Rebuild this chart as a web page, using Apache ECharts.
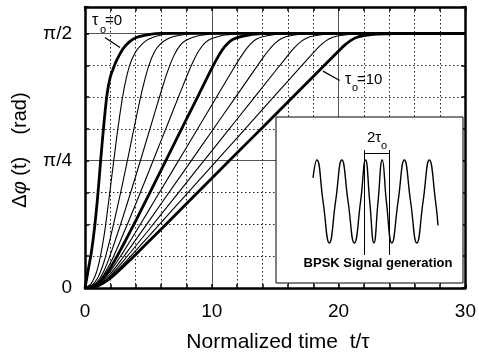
<!DOCTYPE html>
<html>
<head>
<meta charset="utf-8">
<title>BPSK phase transition</title>
<script src="https://cdn.jsdelivr.net/npm/echarts@6.0.0/dist/echarts.min.js"></script>
<style>
  html, body { margin: 0; padding: 0; background: #fff; }
  #chart { width: 479px; height: 355px; }
</style>
</head>
<body>
<div id="chart"></div>
<script>
// Δφ(t), [t/τ, Δφ in units of π/2]
const curveTau0 = [[0,0],[0.25,0.07],[0.5,0.14],[0.75,0.235],[1,0.36],[1.25,0.51],[1.5,0.65],[1.75,0.765],[2,0.83],[2.25,0.865],[2.5,0.895],[3,0.94],[3.5,0.967],[4,0.983],[5,0.995],[6,1],[30,1]];
const curveTau1 = [[0,0],[0.5,0.018],[1,0.078],[1.5,0.205],[2,0.393],[2.5,0.592],[3,0.761],[3.5,0.872],[4,0.928],[4.5,0.958],[5,0.977],[6,0.994],[7,0.999],[8,1],[30,1]];
const curveTau2 = [[0,0],[0.5,0.009],[1,0.039],[1.5,0.103],[2,0.197],[2.5,0.305],[3,0.419],[3.5,0.539],[4,0.66],[4.5,0.775],[5,0.869],[5.5,0.93],[6,0.961],[6.5,0.978],[7,0.988],[8,0.997],[9,1],[30,1]];
const curveTau3 = [[0,0],[0.5,0.006],[1,0.026],[1.5,0.068],[2,0.131],[3,0.28],[4,0.44],[5,0.605],[6,0.771],[6.5,0.849],[7,0.912],[7.5,0.953],[8,0.974],[9,0.992],[10,0.998],[11,1],[30,1]];
const curveTau4 = [[0,0],[1,0.02],[2,0.098],[3,0.21],[4,0.33],[5,0.454],[6,0.579],[7,0.704],[8,0.829],[8.5,0.887],[9,0.934],[9.5,0.965],[10,0.98],[11,0.994],[12,0.998],[13,1],[30,1]];
const curveTau5 = [[0,0],[1,0.016],[2,0.079],[3,0.168],[4,0.264],[5,0.363],[6,0.463],[7,0.563],[8,0.663],[9,0.763],[10,0.863],[10.5,0.909],[11,0.947],[11.5,0.972],[12,0.984],[13,0.995],[14,0.999],[15,1],[30,1]];
const curveTau6 = [[0,0],[1,0.013],[2,0.066],[3,0.14],[4,0.22],[5,0.303],[6,0.386],[8,0.552],[10,0.719],[12,0.886],[12.5,0.924],[13,0.956],[13.5,0.977],[14,0.987],[15,0.996],[16,0.999],[17,1],[30,1]];
const curveTau7 = [[0,0],[1,0.011],[2,0.056],[3,0.12],[4,0.189],[6,0.331],[8,0.473],[10,0.616],[12,0.759],[14,0.902],[14.5,0.935],[15,0.962],[15.5,0.98],[16,0.989],[17,0.997],[18,0.999],[19,1],[30,1]];
const curveTau8 = [[0,0],[1,0.01],[2,0.049],[3,0.105],[4,0.165],[6,0.289],[8,0.414],[10,0.539],[12,0.664],[14,0.789],[16,0.914],[16.5,0.943],[17,0.967],[17.5,0.982],[18,0.99],[19,0.997],[20,0.999],[21,1],[30,1]];
const curveTau9 = [[0,0],[1,0.009],[2,0.044],[3,0.093],[4,0.147],[6,0.257],[8,0.368],[10,0.479],[12,0.59],[14,0.702],[16,0.813],[18,0.924],[18.5,0.95],[19,0.971],[19.5,0.984],[20,0.991],[21,0.997],[22,0.999],[23,1],[30,1]];
const curveTau10 = [[0,0],[1,0.008],[2,0.039],[3,0.084],[4,0.132],[6,0.231],[8,0.331],[10,0.431],[12,0.531],[14,0.631],[16,0.731],[18,0.831],[20,0.931],[20.5,0.955],[21,0.974],[21.5,0.986],[22,0.992],[23,0.998],[24,0.999],[25,1],[30,1]];

const tau0Values = [0, 1, 2, 3, 4, 5, 6, 7, 8, 9, 10];
const thickTau0 = [0, 5, 10];
const phaseCurves = [curveTau0, curveTau1, curveTau2, curveTau3, curveTau4, curveTau5,
                     curveTau6, curveTau7, curveTau8, curveTau9, curveTau10];

const xTickLabels = [0, 10, 20, 30];
const yTickValues = [0, 0.5, 1];
const yTickNames = ['0', 'π/4', 'π/2'];

// inset: BPSK carrier, x in carrier periods, y in amplitude
const bpskWave = [[0,0.57],[0.153,1],[0.403,0],[0.653,-1],[0.903,0],[1.153,1],[1.403,0],[1.653,-1],[1.903,0],
                  [2.102,1],[2.269,0],[2.436,-1],[2.602,0],[2.769,1],[2.936,0],
                  [3.153,-1],[3.403,0],[3.653,1],[3.903,0],[4.153,-1],[4.403,0],[4.653,1],[4.903,0],[5.0,-0.576]];
const phaseJumpEdges = [2.04, 3.04];

const FONT = 'Liberation Sans';
const chart = echarts.init(document.getElementById('chart'));

const mainSeries = phaseCurves.map((data, i) => {
    const thick = thickTau0.includes(tau0Values[i]);
    return {
        type: 'line',
        name: 'τo=' + tau0Values[i],
        xAxisIndex: 0,
        yAxisIndex: 0,
        data: data,
        symbol: 'none',
        smooth: 0.3,
        silent: true,
        z: thick ? 3 : 2,
        lineStyle: { color: '#000', width: thick ? 2.8 : 1.1 }
    };
});

// leader lines for the τo labels
const leader = (a, b) => ({
    symbol: ['none', 'none'],
    silent: true,
    label: { show: false },
    lineStyle: { color: '#000', width: 1.3, type: 'solid' },
    data: [[{ coord: a }, { coord: b }]]
});
mainSeries[0].markLine = leader([1.57, 0.984], [2.76, 0.945]);
mainSeries[10].markLine = leader([18.77, 0.852], [20.08, 0.815]);

const insetSeries = {
    type: 'line',
    xAxisIndex: 3,
    yAxisIndex: 3,
    data: bpskWave,
    symbol: 'none',
    smooth: 0.5,
    silent: true,
    z: 10,
    lineStyle: { color: '#000', width: 1.4 },
    markLine: {
        symbol: ['none', 'none'],
        silent: true,
        z: 10,
        label: { show: false },
        lineStyle: { color: '#000', width: 1, type: 'solid' },
        data: [
            [{ coord: [phaseJumpEdges[0], 1.24] }, { coord: [phaseJumpEdges[0], -1.29] }],
            [{ coord: [phaseJumpEdges[1], 1.24] }, { coord: [phaseJumpEdges[1], -1.29] }],
            [{ coord: [phaseJumpEdges[0], 1.17] }, { coord: [phaseJumpEdges[1], 1.17] }]
        ]
    }
};

const frameAxis = {
    axisLine: { onZero: false, lineStyle: { color: '#000', width: 2.5 } },
    axisTick: { inside: true, length: 4, lineStyle: { color: '#000', width: 1.5 } }
};
const dotted = { show: true, lineStyle: { color: '#222', width: 1, type: [1.5, 2.5] } };
const solidGrid = { show: true, lineStyle: { color: '#555', width: 1 } };
const hidden = { axisLine: { show: false }, axisTick: { show: false }, axisLabel: { show: false } };

const txt = (x, y, text, size, extra) => ({
    type: 'text', x: x, y: y, z: 50, silent: true,
    style: Object.assign({ text: text, fontFamily: FONT, fontSize: size, fill: '#000',
                           align: 'left', verticalAlign: 'middle' }, extra || {})
});

const option = {
    animation: false,
    backgroundColor: '#fff',
    grid: [
        { left: 85, right: 12, top: 7, bottom: 67 },
        { left: 276, top: 117, width: 187, height: 166, show: true, z: 5,
          backgroundColor: '#fff', borderColor: '#000', borderWidth: 1 }
    ],
    xAxis: [
        Object.assign({ gridIndex: 0, type: 'value', min: 0, max: 30, interval: 2, position: 'bottom',
            axisLabel: { margin: 14, fontSize: 19, color: '#000', fontFamily: FONT,
                         formatter: v => xTickLabels.includes(v) ? String(v) : '' },
            splitLine: dotted }, frameAxis),
        Object.assign({ gridIndex: 0, type: 'value', min: 0, max: 30, interval: 2, position: 'top',
            axisLabel: { show: false }, splitLine: { show: false } }, frameAxis),
        Object.assign({ gridIndex: 0, type: 'value', min: 0, max: 30, interval: 10, position: 'bottom',
            splitLine: solidGrid }, hidden),
        { gridIndex: 1, type: 'value', min: -1.48, max: 6, show: false }
    ],
    yAxis: [
        Object.assign({ gridIndex: 0, type: 'value', min: 0, max: 1.104, interval: 0.125, position: 'left',
            axisLabel: { margin: 13, fontSize: 19, color: '#000', fontFamily: FONT,
                         formatter: v => {
                             const k = yTickValues.findIndex(t => Math.abs(t - v) < 1e-6);
                             return k >= 0 ? yTickNames[k] : '';
                         } },
            splitLine: dotted }, frameAxis),
        Object.assign({ gridIndex: 0, type: 'value', min: 0, max: 1.104, interval: 0.125, position: 'right',
            axisLabel: { show: false }, splitLine: { show: false } }, frameAxis),
        Object.assign({ gridIndex: 0, type: 'value', min: 0, max: 1.104, interval: 0.5, position: 'left',
            splitLine: solidGrid }, hidden),
        { gridIndex: 1, type: 'value', min: -1.964, max: 2.036, show: false }
    ],
    series: mainSeries.concat([insetSeries]),
    graphic: [
        // axis titles
        txt(278, 342, 'Normalized time  t/τ', 21, { align: 'center' }),
        {
            type: 'text', x: 20, y: 150, rotation: Math.PI / 2, z: 50, silent: true,
            style: {
                text: '{n|Δ}{i|φ}{n| (t)    (rad)}', fill: '#000',
                align: 'center', verticalAlign: 'middle',
                rich: {
                    n: { fontFamily: FONT, fontSize: 20, fill: '#000' },
                    i: { fontFamily: FONT, fontSize: 20, fontStyle: 'italic', fill: '#000' }
                }
            }
        },
        // τo = 0 label
        txt(92, 21, 'τ', 16),
        txt(100, 30, 'o', 11),
        txt(105, 21, '=0', 15),
        // τo = 10 label
        txt(345, 80, 'τ', 16),
        txt(352, 88, 'o', 11),
        txt(357, 80, '=10', 15),
        // inset labels
        txt(367, 138, '2τ', 15),
        txt(381, 146, 'o', 11),
        txt(378, 263, 'BPSK Signal generation', 13, { align: 'center', fontWeight: 'bold' })
    ]
};

chart.setOption(option);
window.addEventListener('resize', () => chart.resize());
</script>
</body>
</html>
